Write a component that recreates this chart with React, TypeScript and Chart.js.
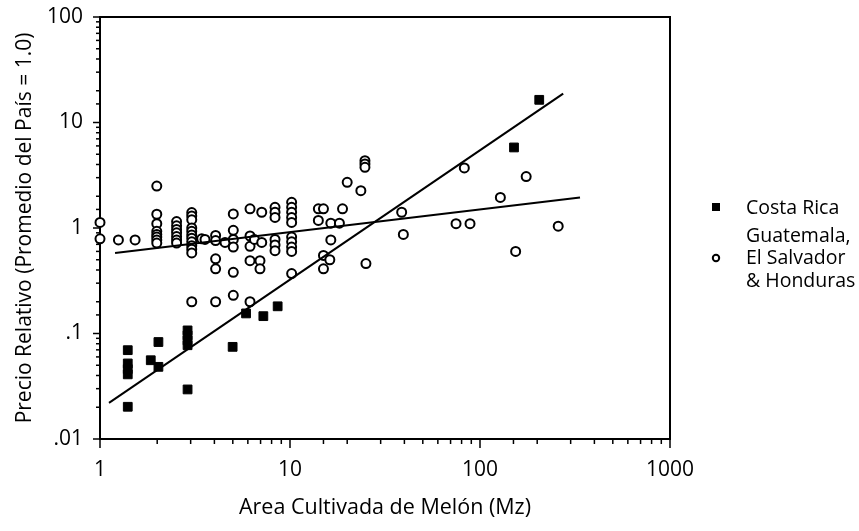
import React, { useEffect, useRef } from "react";
import { Chart, registerables } from "chart.js";

Chart.register(...registerables);

// Costa Rica (filled squares)
const costaRicaArea = [1.4, 1.4, 1.4, 1.4, 1.4, 1.85, 2.03, 2.03, 2.89, 2.89, 2.89, 2.89, 2.89, 4.99, 5.87, 7.24, 8.61, 151, 205];
const costaRicaPrice = [0.0695, 0.052, 0.046, 0.041, 0.0202, 0.0558, 0.0483, 0.083, 0.107, 0.096, 0.086, 0.0774, 0.0295, 0.0747, 0.155, 0.146, 0.181, 5.8, 16.4];

// Guatemala, El Salvador & Honduras (open circles)
const otherArea = [
  1, 1, 1.25, 1.53,
  1.99, 1.99, 1.99, 1.99, 1.99, 1.99, 1.99, 1.99,
  2.53, 2.53, 2.53, 2.53, 2.53, 2.53, 2.53,
  3.04, 3.04, 3.04, 3.04, 3.04, 3.04, 3.04, 3.04, 3.04, 3.04, 3.04, 3.04,
  3.43, 3.57,
  4.06, 4.06, 4.06, 4.06, 4.06,
  4.55,
  5.03, 5.03, 5.03, 5.03, 5.03, 5.03,
  6.16, 6.16, 6.16, 6.16, 6.16,
  6.5, 7.1, 7.1, 6.95, 6.95,
  8.34, 8.34, 8.34, 8.34, 8.34, 8.34,
  10.2, 10.2, 10.2, 10.2, 10.2, 10.2, 10.2, 10.2, 10.2, 10.2,
  14.1, 14.1, 15.0, 15.0, 15.0, 16.4, 16.4, 16.2, 18.2, 18.9,
  20.0, 23.6, 24.8, 24.8, 24.8, 25.1,
  38.7, 39.5, 74.8, 82.7, 88.6, 128, 154, 175, 258,
];
const otherPrice = [
  1.13, 0.79, 0.77, 0.77,
  2.5, 1.35, 1.1, 0.93, 0.87, 0.82, 0.77, 0.72,
  1.15, 1.05, 0.97, 0.9, 0.83, 0.77, 0.72,
  1.4, 1.3, 1.2, 1.0, 0.93, 0.86, 0.8, 0.74, 0.68, 0.63, 0.58, 0.2,
  0.79, 0.78,
  0.85, 0.76, 0.51, 0.41, 0.2,
  0.73,
  1.36, 0.95, 0.78, 0.66, 0.38, 0.23,
  1.52, 0.84, 0.67, 0.49, 0.2,
  0.78, 1.41, 0.73, 0.49, 0.41,
  1.57, 1.41, 1.26, 0.78, 0.69, 0.61,
  1.75, 1.57, 1.41, 1.26, 1.13, 0.82, 0.74, 0.66, 0.6, 0.37,
  1.52, 1.18, 1.52, 0.55, 0.41, 1.11, 0.77, 0.5, 1.11, 1.52,
  2.71, 2.26, 4.35, 4.05, 3.76, 0.46,
  1.41, 0.87, 1.1, 3.71, 1.1, 1.95, 0.6, 3.07, 1.04,
];

// Regression lines (end points)
const costaRicaTrendArea = [1.115, 274];
const costaRicaTrendPrice = [0.022, 18.8];
const otherTrendArea = [1.2, 336];
const otherTrendPrice = [0.578, 1.95];

// Axis ticks
const xTickValues = [1, 10, 100, 1000];
const xTickLabels = ["1", "10", "100", "1000"];
const yTickValues = [0.01, 0.1, 1, 10, 100];
const yTickLabels = [".01", ".1", "1", "10", "100"];

const xTitle = "Area Cultivada de Melón (Mz)";
const yTitle = "Precio Relativo (Promedio del País = 1.0)";
const legendCostaRica = ["Costa Rica"];
const legendOther = ["Guatemala,", "El Salvador", "& Honduras"];

const FONT = "'Open Sans', 'Liberation Sans', sans-serif";

const zip = (xs: number[], ys: number[]) => xs.map((x, i) => ({ x, y: ys[i] }));

const isPow10 = (v: number) => Math.abs(Math.log10(v) - Math.round(Math.log10(v))) < 1e-6;

const labelFor = (values: number[], labels: string[]) => (v: any) => {
  const n = Number(v);
  const i = values.findIndex((t) => Math.abs(Math.log10(t) - Math.log10(n)) < 1e-6);
  return i >= 0 ? labels[i] : "";
};

const framePlugin = {
  id: "frameAndLegend",
  beforeDatasetsDraw(chart: any) {
    const { ctx, chartArea, scales } = chart;
    const { left, right, top, bottom } = chartArea;
    ctx.save();
    ctx.strokeStyle = "#000";
    ctx.lineWidth = 2;
    ctx.strokeRect(left, top, right - left, bottom - top);
    ctx.lineWidth = 1.5;
    scales.x.ticks.forEach((t: any) => {
      const px = scales.x.getPixelForValue(t.value);
      const len = isPow10(t.value) ? 9 : 5;
      ctx.beginPath();
      ctx.moveTo(px, bottom);
      ctx.lineTo(px, bottom + len);
      ctx.stroke();
    });
    scales.y.ticks.forEach((t: any) => {
      const py = scales.y.getPixelForValue(t.value);
      const len = isPow10(t.value) ? 7 : 4;
      ctx.beginPath();
      ctx.moveTo(left, py);
      ctx.lineTo(left - len, py);
      ctx.stroke();
    });
    ctx.restore();
  },
  afterDraw(chart: any) {
    const { ctx } = chart;
    ctx.save();
    ctx.fillStyle = "#000";
    ctx.strokeStyle = "#000";
    // square marker
    ctx.fillRect(716 - 4, 207 - 4, 8, 8);
    ctx.font = `19.5px ${FONT}`;
    ctx.textBaseline = "middle";
    ctx.textAlign = "left";
    legendCostaRica.forEach((s, i) => ctx.fillText(s, 746, 208 + i * 22.5));
    // circle marker
    ctx.lineWidth = 2;
    ctx.beginPath();
    ctx.arc(716, 258, 3.2, 0, Math.PI * 2);
    ctx.stroke();
    legendOther.forEach((s, i) => ctx.fillText(s, 746, 236 + i * 22.5));
    ctx.restore();
  },
};

export default function App() {
  const ref = useRef<HTMLCanvasElement | null>(null);

  useEffect(() => {
    if (!ref.current) return;
    Chart.defaults.font.family = FONT;
    Chart.defaults.color = "#000";
    const chart = new Chart(ref.current, {
      type: "scatter",
      data: {
        datasets: [
          {
            type: "line",
            label: "Costa Rica trend",
            data: zip(costaRicaTrendArea, costaRicaTrendPrice),
            borderColor: "#000",
            borderWidth: 2,
            pointRadius: 0,
            showLine: true,
            fill: false,
            order: 0,
          } as any,
          {
            type: "line",
            label: "Other trend",
            data: zip(otherTrendArea, otherTrendPrice),
            borderColor: "#000",
            borderWidth: 2,
            pointRadius: 0,
            showLine: true,
            fill: false,
            order: 0,
          } as any,
          {
            label: "Costa Rica",
            data: zip(costaRicaArea, costaRicaPrice),
            pointStyle: "rect",
            pointRadius: 6.2,
            backgroundColor: "#000",
            borderColor: "#000",
            borderWidth: 1,
            clip: false,
            order: 1,
          } as any,
          {
            label: "Guatemala, El Salvador & Honduras",
            data: zip(otherArea, otherPrice),
            pointStyle: "circle",
            pointRadius: 4.5,
            backgroundColor: "#fff",
            borderColor: "#000",
            borderWidth: 2,
            clip: false,
            order: 2,
          } as any,
        ],
      },
      options: {
        animation: false,
        responsive: false,
        events: [],
        layout: { padding: { left: 0, top: 17, right: 189, bottom: 0 } },
        plugins: {
          legend: { display: false },
          tooltip: { enabled: false },
        },
        scales: {
          x: {
            type: "logarithmic",
            min: 1,
            max: 1000,
            grid: { display: false, drawTicks: false },
            border: { display: false },
            ticks: {
              autoSkip: false,
              maxRotation: 0,
              padding: 18,
              font: { size: 21, family: FONT },
              color: "#000",
              callback: labelFor(xTickValues, xTickLabels),
            },
            title: {
              display: true,
              text: xTitle,
              font: { size: 21.5, family: FONT },
              color: "#000",
              padding: { top: 0, bottom: 10 },
            },
            afterFit: (scale: any) => {
              scale.height = 92;
              scale.paddingLeft = 0;
              scale.paddingRight = 0;
            },
          },
          y: {
            type: "logarithmic",
            min: 0.01,
            max: 100,
            grid: { display: false, drawTicks: false },
            border: { display: false },
            ticks: {
              autoSkip: false,
              padding: 17,
              font: { size: 21, family: FONT },
              color: "#000",
              callback: labelFor(yTickValues, yTickLabels),
            },
            title: {
              display: true,
              text: yTitle,
              font: { size: 21, family: FONT },
              color: "#000",
              padding: { top: 12, bottom: 0 },
            },
            afterFit: (scale: any) => {
              scale.width = 100;
              scale.paddingTop = 0;
              scale.paddingBottom = 0;
            },
          },
        },
      },
      plugins: [framePlugin],
    } as any);
    return () => chart.destroy();
  }, []);

  return (
    <div style={{ position: "absolute", left: 0, top: 0, width: 859, height: 531, background: "#fff" }}>
      <canvas ref={ref} width={859} height={531} style={{ display: "block" }} />
    </div>
  );
}
